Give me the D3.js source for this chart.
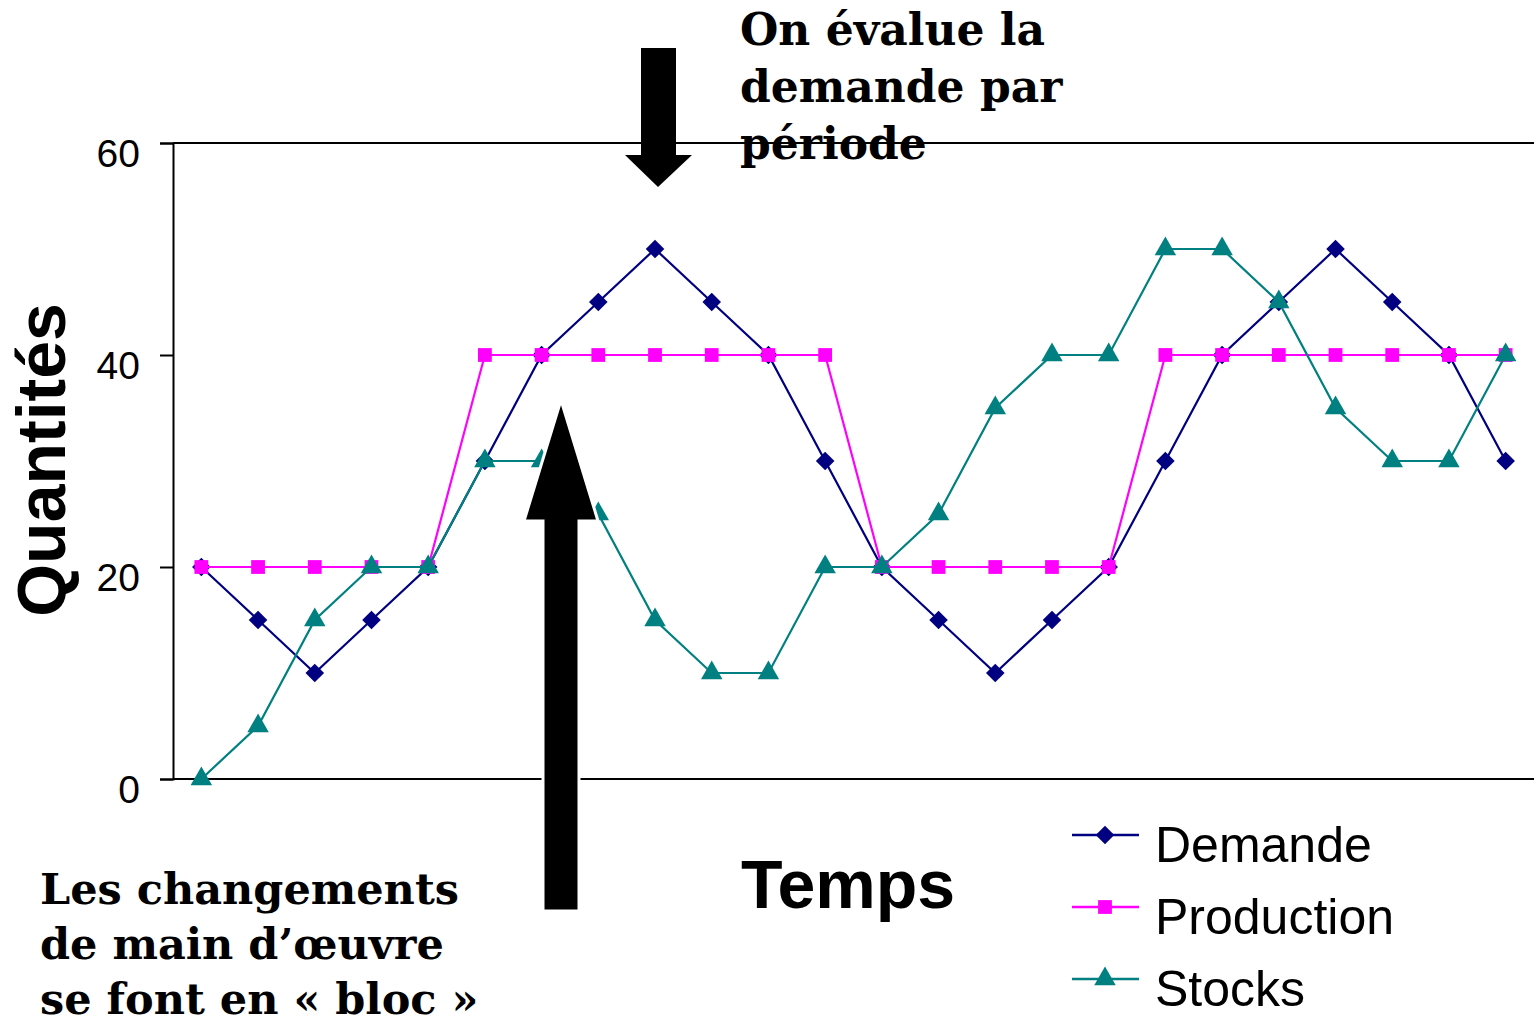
<!DOCTYPE html>
<html>
<head>
  <meta charset="utf-8">
  <title>Demande, production, stocks</title>
  <style>
    html, body { margin: 0; padding: 0; background: #fff; }
    svg { display: block; }
  </style>
</head>
<body>
  <svg width="1534" height="1026"></svg>
  <script src="https://d3js.org/d3.v7.min.js"></script>
  <script>
    // données
    const periods = d3.range(1, 25);
    const demande = [20, 15, 10, 15, 20, 30, 40, 45, 50, 45, 40, 30, 20, 15, 10, 15, 20, 30, 40, 45, 50, 45, 40, 30];
    const production = [20, 20, 20, 20, 20, 40, 40, 40, 40, 40, 40, 40, 20, 20, 20, 20, 20, 40, 40, 40, 40, 40, 40, 40];
    const stocks = [0, 5, 15, 20, 20, 30, 30, 25, 15, 10, 10, 20, 20, 25, 35, 40, 40, 50, 50, 45, 35, 30, 30, 40];
    const yTicks = [0, 20, 40, 60];

    const series = [
      { name: "Demande", values: demande, color: "#000080", symbol: d3.symbolDiamond2, size: 220 },
      { name: "Production", values: production, color: "#ff00ff", symbol: d3.symbolSquare, size: 190 },
      { name: "Stocks", values: stocks, color: "#008080", symbol: d3.symbolTriangle, size: 200 }
    ];

    const svg = d3.select("svg");
    const plotL = 173, plotR = 1534, plotT = 143, plotB = 779;

    const x = d3.scalePoint().domain(periods).range([plotL, plotR]).padding(0.5);
    const y = d3.scaleLinear().domain([0, 60]).range([plotB, plotT]);

    // cadre haut et bas
    svg.append("line").attr("x1", plotL).attr("x2", plotR).attr("y1", plotT).attr("y2", plotT)
      .attr("stroke", "#000").attr("stroke-width", 2);
    svg.append("line").attr("x1", plotL).attr("x2", plotR).attr("y1", plotB).attr("y2", plotB)
      .attr("stroke", "#000").attr("stroke-width", 2);

    const yAxis = svg.append("g")
      .attr("transform", `translate(${plotL},0)`)
      .call(d3.axisLeft(y).tickValues(yTicks).tickSize(13).tickPadding(20));
    yAxis.select(".domain").attr("stroke-width", 2);
    yAxis.selectAll(".tick line").attr("stroke-width", 2);
    yAxis.selectAll(".tick text")
      .attr("font-family", "Liberation Sans, Arial, sans-serif")
      .attr("font-size", 39).attr("dy", "0.6em");

    const line = d3.line().x((d, i) => x(periods[i])).y(d => y(d));

    series.forEach(s => {
      svg.append("path").datum(s.values)
        .attr("d", line).attr("fill", "none")
        .attr("stroke", s.color).attr("stroke-width", 2.2);
      svg.append("g").selectAll("path").data(s.values).enter().append("path")
        .attr("d", d3.symbol().type(s.symbol).size(s.size))
        .attr("transform", (d, i) => `translate(${x(periods[i])},${y(d)})`)
        .attr("fill", s.color);
    });

    // titres des axes
    svg.append("text")
      .attr("transform", "translate(65,460) rotate(-90)")
      .attr("text-anchor", "middle")
      .attr("font-family", "Liberation Sans, Arial, sans-serif")
      .attr("font-weight", "bold").attr("font-size", 68)
      .text("Quantités");
    svg.append("text")
      .attr("x", 848).attr("y", 908)
      .attr("text-anchor", "middle")
      .attr("font-family", "Liberation Sans, Arial, sans-serif")
      .attr("font-weight", "bold").attr("font-size", 68)
      .text("Temps");

    // légende
    const legend = svg.append("g");
    series.forEach((s, i) => {
      const ly = 835 + i * 72;
      legend.append("line").attr("x1", 1072).attr("x2", 1139).attr("y1", ly).attr("y2", ly)
        .attr("stroke", s.color).attr("stroke-width", 2.5);
      legend.append("path")
        .attr("d", d3.symbol().type(s.symbol).size(s.size))
        .attr("transform", `translate(1105,${ly})`).attr("fill", s.color);
      legend.append("text").attr("x", 1155).attr("y", ly + 27)
        .attr("font-family", "Liberation Sans, Arial, sans-serif")
        .attr("font-size", 50).text(s.name);
    });

    // flèches
    svg.append("path")
      .attr("d", "M641,48 L676,48 L676,155 L692,155 L658,187 L625,155 L641,155 Z")
      .attr("fill", "#000");
    svg.append("path")
      .attr("d", "M561,400 L598,521 L579,521 L579,911 L543,911 L543,521 L524,521 Z")
      .attr("fill", "#000").attr("stroke", "#fff").attr("stroke-width", 3);

    // annotations
    const note = (lines, x0, y0, size, gap) => {
      const t = svg.append("text")
        .attr("font-family", "DejaVu Serif, serif")
        .attr("font-weight", "bold").attr("font-size", size);
      lines.forEach((l, i) => t.append("tspan").attr("x", x0).attr("y", y0 + i * gap).text(l));
    };
    note(["On évalue la", "demande par", "période"], 740, 45, 44, 57);
    note(["Les changements", "de main d’œuvre", "se font en « bloc »"], 40, 904, 43, 55);
  </script>
</body>
</html>
